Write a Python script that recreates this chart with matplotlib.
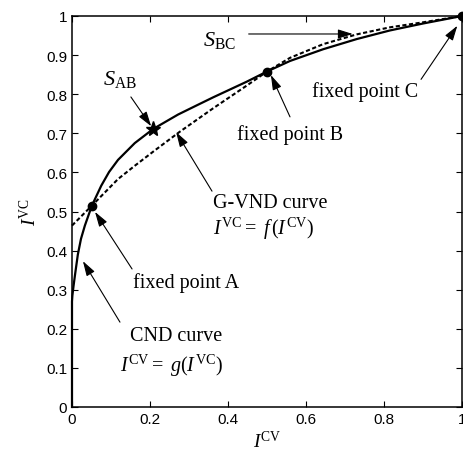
import matplotlib

matplotlib.use('Agg')
import matplotlib.pyplot as plt

plt.rcParams['font.family'] = ['Liberation Sans', 'DejaVu Sans']
plt.rcParams['mathtext.fontset'] = 'custom'
plt.rcParams['mathtext.rm'] = 'Liberation Serif'
plt.rcParams['mathtext.it'] = 'Liberation Serif:italic'

# CND curve  I_CV = g(I_VC)  (solid)
cnd_x = [0, 0, 0.001, 0.004, 0.008, 0.015, 0.023, 0.033, 0.051, 0.075, 0.095, 0.118, 0.161,
         0.208, 0.272, 0.323, 0.362, 0.448, 0.5, 0.559, 0.644, 0.73, 0.815, 0.901, 1.0]
cnd_y = [0, 0.27, 0.285, 0.31, 0.34, 0.39, 0.43, 0.464, 0.515, 0.566, 0.601, 0.632, 0.675,
         0.711, 0.748, 0.773, 0.792, 0.832, 0.858, 0.885, 0.915, 0.941, 0.963, 0.981, 1.0]

# G-VND curve  I_VC = f(I_CV)  (dashed)
gvnd_x = [0, 0.051, 0.118, 0.161, 0.212, 0.275, 0.362, 0.448, 0.5, 0.559, 0.644, 0.73,
          0.815, 0.901, 1.0]
gvnd_y = [0.464, 0.515, 0.583, 0.617, 0.656, 0.703, 0.764, 0.822, 0.858, 0.893, 0.928, 0.953,
          0.971, 0.984, 1.0]

# fixed points A, B, C and saddle point S_AB
fixed_x = [0.051, 0.5, 1.0]
fixed_y = [0.515, 0.858, 1.0]
sab_x, sab_y = 0.208, 0.711

ticks = [0, 0.2, 0.4, 0.6, 0.8, 1]
yticks = [0, 0.1, 0.2, 0.3, 0.4, 0.5, 0.6, 0.7, 0.8, 0.9, 1]

fig = plt.figure(figsize=(4.63, 4.52), dpi=100)
ax = fig.add_axes([72 / 463, 44 / 452, 390 / 463, 391 / 452])

ax.plot(cnd_x, cnd_y, 'k-', lw=1.6, clip_on=False)
ax.plot(gvnd_x, gvnd_y, 'k--', lw=1.5, dashes=(2, 1.2), clip_on=False)
ax.plot(fixed_x, fixed_y, 'ko', ms=6, clip_on=False, zorder=5)
ax.plot(sab_x, sab_y, 'k*', ms=11, zorder=5)

ax.set_xlim(0, 1)
ax.set_ylim(0, 1)
ax.set_xticks(ticks)
ax.set_xticklabels(['0', '0.2', '0.4', '0.6', '0.8', '1'])
ax.set_yticks(yticks)
ax.set_yticklabels(['0', '0.1', '0.2', '0.3', '0.4', '0.5', '0.6', '0.7', '0.8', '0.9', '1'])
ax.tick_params(direction='in', top=True, right=True, labelsize=11, length=4, width=0.8)
for s in ax.spines.values():
    s.set_linewidth(1.1)

ax.set_xlabel(r'$I^{\rm CV}$', fontsize=14, labelpad=3)
ax.set_ylabel(r'$I^{\rm VC}$', fontsize=14, labelpad=4)

fs = 14.5
serif = 'Liberation Serif'
arrow = dict(arrowstyle='-|>,head_length=0.9,head_width=0.28', lw=0.8, color='k',
             shrinkA=0, shrinkB=0)


def arr(tip, tail):
    ax.annotate('', xy=tip, xytext=tail, arrowprops=arrow)


ax.text(0.123, 0.839, r'$S_{\rm AB}$', fontsize=16, ha='center', va='center')
arr((0.203, 0.718), (0.151, 0.793))

ax.text(0.377, 0.941, r'$S_{\rm BC}$', fontsize=16, ha='center', va='center')
arr((0.72, 0.954), (0.453, 0.954))

ax.text(0.751, 0.808, 'fixed point C', fontsize=fs, family=serif, ha='center', va='center')
arr((0.988, 0.975), (0.895, 0.838))

ax.text(0.559, 0.698, 'fixed point B', fontsize=fs, family=serif, ha='center', va='center')
arr((0.51, 0.849), (0.559, 0.742))

ax.text(0.362, 0.522, 'G-VND curve', fontsize=fs, family=serif, ha='left', va='center')
ax.text(0.362, 0.458, r'$I^{\rm VC} =\ f\,(I^{\rm CV})$', fontsize=fs, ha='left', va='center')
arr((0.267, 0.703), (0.359, 0.552))

ax.text(0.156, 0.32, 'fixed point A', fontsize=fs, family=serif, ha='left', va='center')
arr((0.059, 0.499), (0.154, 0.353))

ax.text(0.149, 0.182, 'CND curve', fontsize=fs, family=serif, ha='left', va='center')
ax.text(0.123, 0.108, r'$I^{\rm CV} =\ g(I^{\rm VC})$', fontsize=fs, ha='left', va='center')
arr((0.028, 0.373), (0.123, 0.217))

fig.savefig('out.png', dpi=100)
